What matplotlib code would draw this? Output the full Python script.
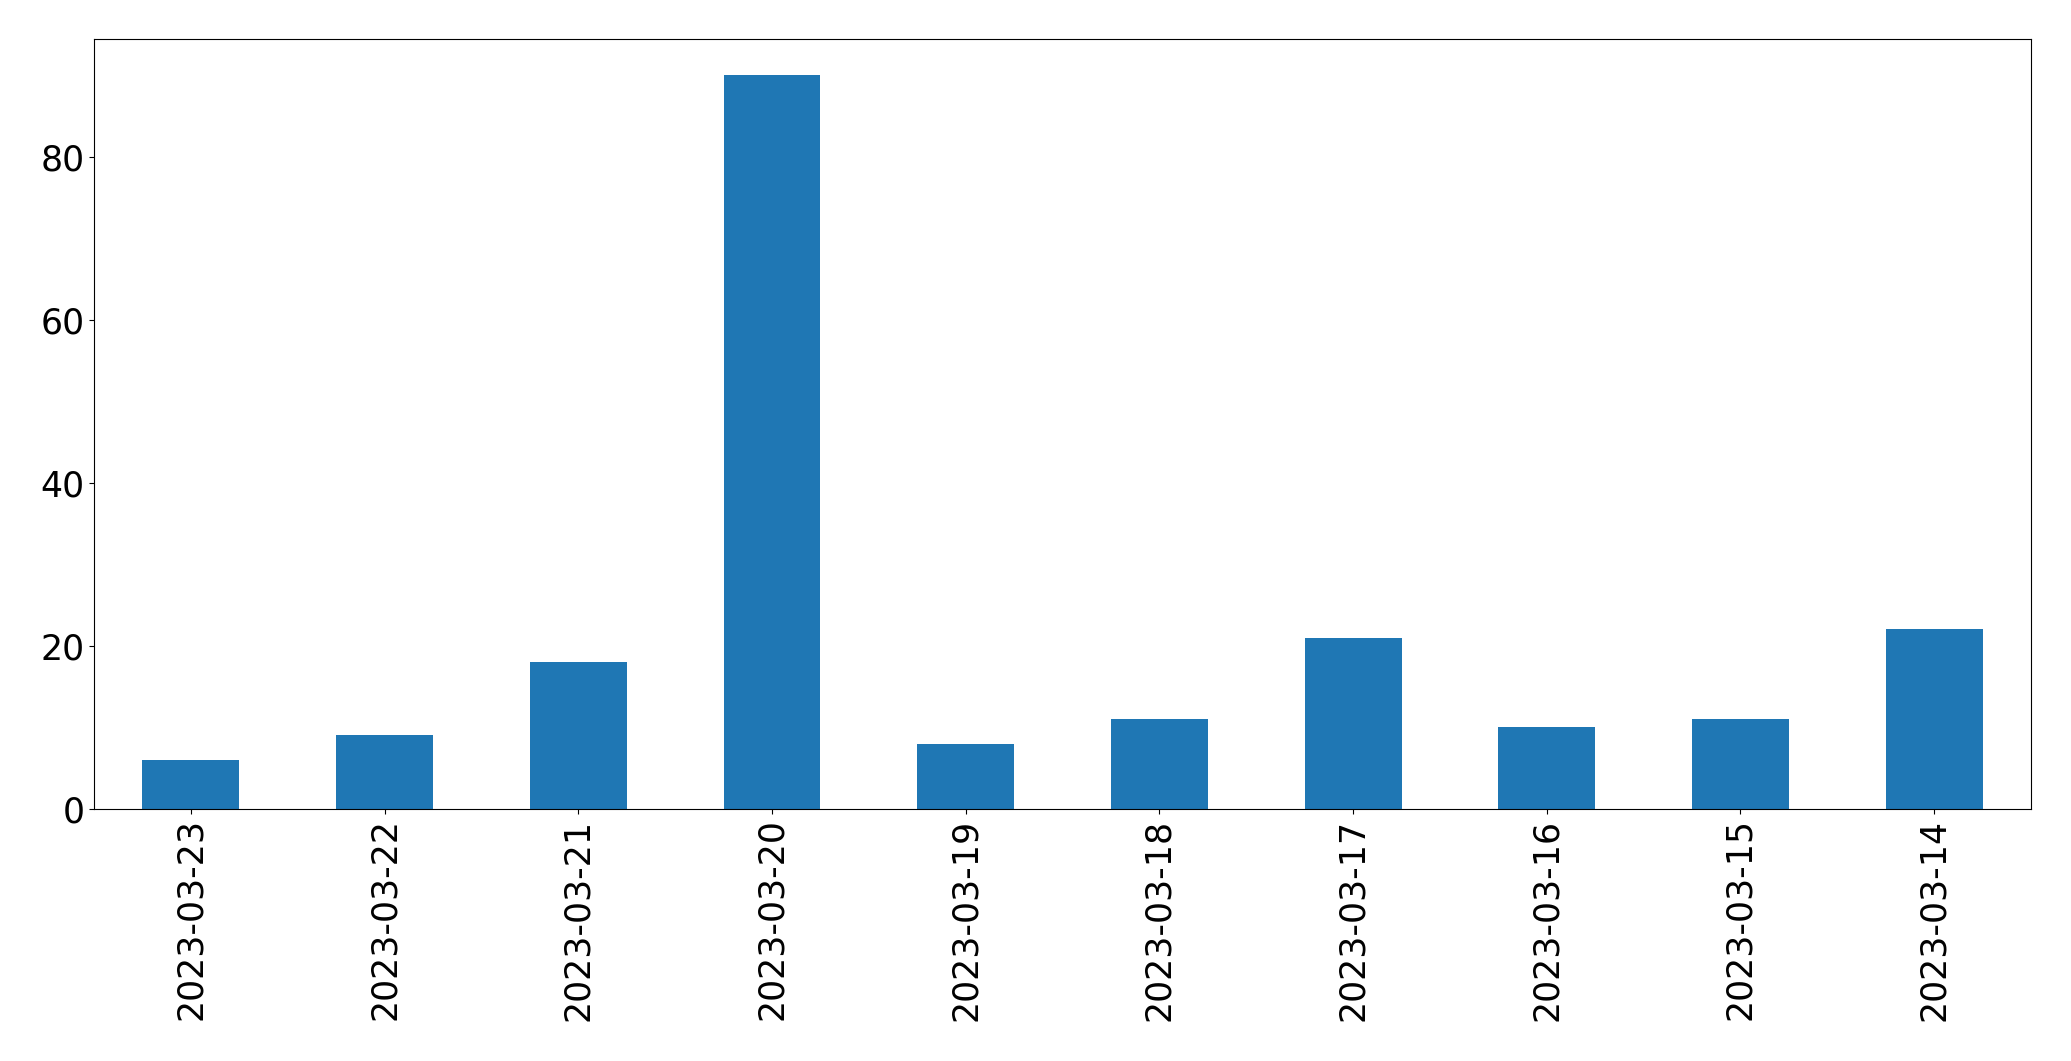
import matplotlib
matplotlib.use("Agg")
import matplotlib.pyplot as plt
import pandas as pd

dates = ["2023-03-23", "2023-03-22", "2023-03-21", "2023-03-20", "2023-03-19",
         "2023-03-18", "2023-03-17", "2023-03-16", "2023-03-15", "2023-03-14"]
counts = [6, 9, 18, 90, 8, 11, 21, 10, 11, 22]

s = pd.Series(counts, index=dates)

fig, ax = plt.subplots(figsize=(20.71, 10.61), dpi=100)
fig.subplots_adjust(left=0.0454, right=0.9807, top=0.9635, bottom=0.2378)
s.plot(kind="bar", ax=ax, color="#1f77b4")
ax.tick_params(axis="both", which="major", labelsize=25)

plt.savefig("out.png", dpi=100)
